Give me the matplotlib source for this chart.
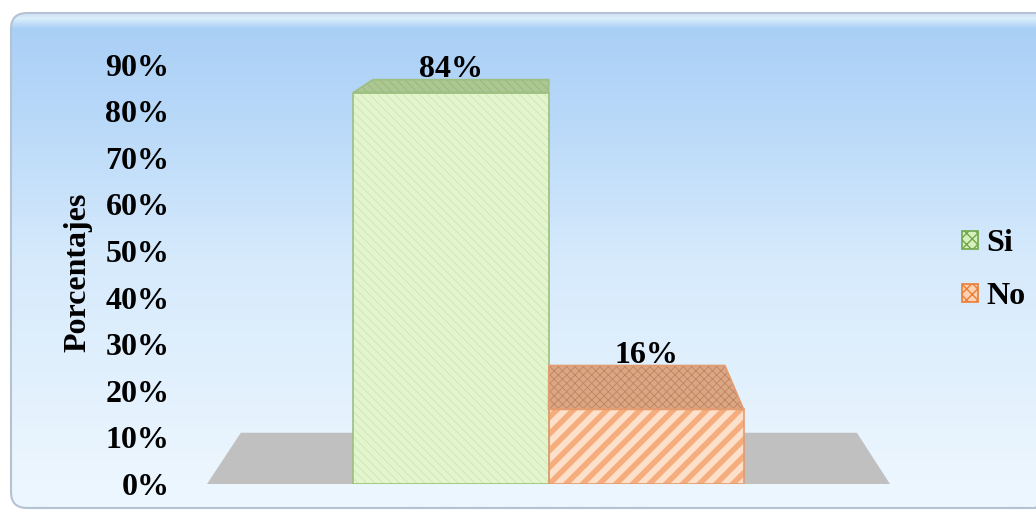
import numpy as np
import matplotlib
matplotlib.use("Agg")
import matplotlib.pyplot as plt
from matplotlib.patches import Polygon, Patch, FancyBboxPatch

# answers and their share
series = ["Si", "No"]
values = [0.84, 0.16]
value_labels = ["84%", "16%"]
ticks = [0.0, 0.1, 0.2, 0.3, 0.4, 0.5, 0.6, 0.7, 0.8, 0.9]
tick_labels = ["0%", "10%", "20%", "30%", "40%", "50%", "60%", "70%", "80%", "90%"]

FONT = "Liberation Serif"
W, H = 1036, 515

front_cols = ["#e3f5cd", "#fde0c9"]
hatch_cols = ["#d0e7b6", "#f6ad7e"]
top_cols = ["#acc792", "#dba684"]
top_hatch_cols = ["#97b67b", "#bf8460"]
edge_cols = ["#9dbf80", "#e39c70"]
hatches = ["\\\\\\\\", "//"]
top_hatches = ["\\\\\\\\", "xxxx"]
front_hatch_lw = [0.7, 4.0]

fig = plt.figure(figsize=(W / 100, H / 100), dpi=100)

# background panel with a soft blue gradient
bg = fig.add_axes([0, 0, 1, 1], zorder=-2)
bg.set_xlim(0, W)
bg.set_ylim(H, 0)
bg.axis("off")
stops_y = [12, 18, 28, 120, 260, 480, 510]
stops_c = [(205, 222, 240), (218, 238, 252), (170, 207, 246), (185, 217, 249),
           (214, 234, 252), (236, 246, 254), (236, 246, 254)]
yy = np.arange(12, 511)
grad = np.zeros((len(yy), 1, 3))
for k in range(3):
    grad[:, 0, k] = np.interp(yy, stops_y, [c[k] for c in stops_c]) / 255
panel = FancyBboxPatch((11, 13), 1040, 495, boxstyle="round,pad=0,rounding_size=16",
                       transform=bg.transData, facecolor="none",
                       edgecolor="#b4c2d4", linewidth=1.5)
img = bg.imshow(grad, extent=(10, 1050, 510, 12), aspect="auto", interpolation="bilinear")
bg.add_patch(panel)
img.set_clip_path(panel)

# plot area: x in bar-width units, y in share of answers
ax = fig.add_axes([207 / W, (H - 484) / H, (890 - 207) / W, 466 / H])
ax.set_xlim(-1.75, 1.75)
ax.set_ylim(0, 1)
ax.patch.set_visible(False)
for s in ax.spines.values():
    s.set_visible(False)
ax.set_xticks([])
ax.set_yticks(ticks)
ax.set_yticklabels(tick_labels, fontfamily=FONT, fontweight="bold", fontsize=23)
ax.tick_params(axis="y", length=0, pad=27)
ax.set_ylabel("Porcentajes", fontfamily=FONT, fontweight="bold", fontsize=23)
ax.yaxis.set_label_coords(-0.168, 0.455)

# perspective: points recede toward a vanishing point
vp = (0.018, 1.122)
depth = 0.098


def back(x, y):
    return (x + depth * (vp[0] - x), y + depth * (vp[1] - y))


# floor
fl = [(-1.75, 0), (1.75, 0), back(1.75, 0), back(-1.75, 0)]
ax.add_patch(Polygon(fl, closed=True, facecolor="#c0c0c0", edgecolor="none", zorder=1))

for i, (name, v) in enumerate(zip(series, values)):
    x0, x1 = i - 1, i
    top = [(x0, v), (x1, v), back(x1, v), back(x0, v)]
    front = [(x0, 0), (x1, 0), (x1, v), (x0, v)]
    plt.rcParams["hatch.linewidth"] = 0.6
    ax.add_patch(Polygon(top, closed=True, facecolor=top_cols[i], hatch=top_hatches[i],
                         edgecolor=top_hatch_cols[i], linewidth=0, zorder=2))
    plt.rcParams["hatch.linewidth"] = front_hatch_lw[i]
    ax.add_patch(Polygon(front, closed=True, facecolor=front_cols[i], hatch=hatches[i],
                         edgecolor=hatch_cols[i], linewidth=0, zorder=3))
    for poly in (top, front):
        ax.add_patch(Polygon(poly, closed=True, facecolor="none",
                             edgecolor=edge_cols[i], linewidth=1.2, zorder=4))
    lx, ly = back((x0 + x1) / 2, v)
    ax.annotate(value_labels[i], ((x0 + x1) / 2, ly), xytext=(0, 7),
                textcoords="offset points", ha="center", va="center",
                fontfamily=FONT, fontweight="bold", fontsize=23, zorder=5)

plt.rcParams["hatch.linewidth"] = 1.0
handles = [Patch(facecolor="#d6efbd", edgecolor="#6fa84a", hatch="xxx", linewidth=1.2),
           Patch(facecolor="#fcd2b2", edgecolor="#ec7d35", hatch="xxx", linewidth=1.2)]
leg = fig.legend(handles, series, loc="center left", bbox_to_anchor=(962 / W, (H - 270) / H),
                 frameon=False, borderpad=0, borderaxespad=0,
                 handlelength=0.5, handleheight=0.5, handletextpad=0.25,
                 labelspacing=0.75, prop={"family": FONT, "weight": "bold", "size": 23})

fig.savefig("out.png", dpi=100)
